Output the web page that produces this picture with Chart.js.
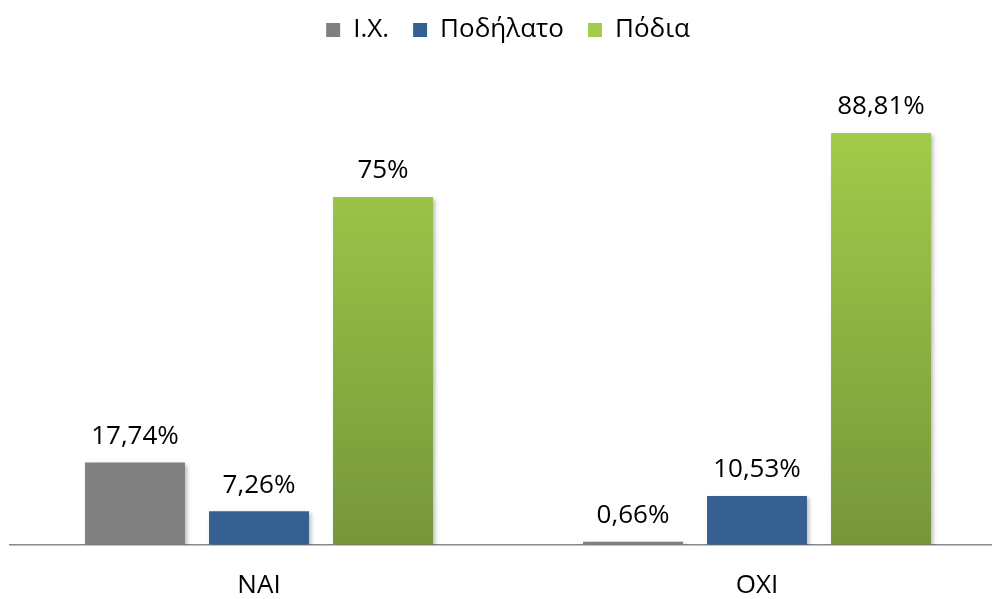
<!DOCTYPE html>
<html>
<head>
<meta charset="utf-8">
<script src="https://cdn.jsdelivr.net/npm/chart.js@4/dist/chart.umd.min.js"></script>
<style>
  html, body { margin: 0; padding: 0; background: #fff; overflow: hidden; }
  canvas { display: block; }
</style>
</head>
<body>
<canvas id="chart" width="1024" height="599"></canvas>
<script>
// δεδομένα του γραφήματος
const categories = ['NAI', 'OXI'];
const seriesNames = ['Ι.Χ.', 'Ποδήλατο', 'Πόδια'];
const carValues = [17.74, 0.66];
const bikeValues = [7.26, 10.53];
const walkValues = [75, 88.81];

const FONT = "'Open Sans', sans-serif";

// διαβάθμιση για τις πράσινες μπάρες
function greenGradient(context) {
    const chart = context.chart;
    const area = chart.chartArea;
    if (!area) return '#8db043';
    const y0 = chart.scales.y.getPixelForValue(90);
    const g = chart.ctx.createLinearGradient(0, y0, 0, area.bottom);
    g.addColorStop(0, '#a2cc4a');
    g.addColorStop(1, '#76963a');
    return g;
}

// περισσότερος χώρος κάτω από το υπόμνημα
const legendGap = {
    id: 'legendGap',
    beforeInit(chart) {
        const origFit = chart.legend.fit;
        chart.legend.fit = function () {
            origFit.bind(chart.legend)();
            this.height += 28;
        };
    }
};

// σκιά κάτω από τις μπάρες
const barShadow = {
    id: 'barShadow',
    beforeDatasetDraw(chart) {
        const ctx = chart.ctx;
        ctx.save();
        ctx.shadowColor = 'rgba(0,0,0,0.28)';
        ctx.shadowBlur = 4;
        ctx.shadowOffsetX = 2;
        ctx.shadowOffsetY = 2;
    },
    afterDatasetDraw(chart) {
        chart.ctx.restore();
    }
};

// ετικέτες τιμών πάνω από τις μπάρες
const valueLabels = {
    id: 'valueLabels',
    afterDatasetsDraw(chart) {
        const ctx = chart.ctx;
        ctx.save();
        ctx.font = '26px ' + FONT;
        ctx.fillStyle = '#000';
        ctx.textAlign = 'center';
        ctx.textBaseline = 'middle';
        chart.data.datasets.forEach((ds, i) => {
            chart.getDatasetMeta(i).data.forEach((bar, j) => {
                const txt = String(ds.data[j]).replace('.', ',') + '%';
                ctx.fillText(txt, bar.x, bar.y - 26);
            });
        });
        ctx.restore();
    }
};

new Chart(document.getElementById('chart'), {
    type: 'bar',
    data: {
        labels: categories,
        datasets: [
            { label: seriesNames[0], data: carValues, backgroundColor: '#808080' },
            { label: seriesNames[1], data: bikeValues, backgroundColor: '#376092' },
            { label: seriesNames[2], data: walkValues, backgroundColor: greenGradient }
        ]
    },
    options: {
        responsive: false,
        animation: false,
        datasets: {
            bar: {
                categoryPercentage: 0.747,
                barPercentage: 0.806
            }
        },
        layout: {
            padding: { top: -7, left: 10, right: 18, bottom: -19 }
        },
        plugins: {
            tooltip: { enabled: false },
            legend: {
                position: 'top',
                labels: {
                    font: { family: FONT, size: 26 },
                    color: '#000',
                    boxWidth: 14,
                    boxHeight: 14,
                    padding: 24
                }
            }
        },
        scales: {
            x: {
                grid: { display: false },
                border: { display: true, color: '#888888', width: 1.5 },
                ticks: {
                    font: { family: FONT, size: 26 },
                    color: '#000',
                    padding: 17
                }
            },
            y: {
                display: false,
                min: 0,
                max: 100
            }
        }
    },
    plugins: [legendGap, barShadow, valueLabels]
});
</script>
</body>
</html>
